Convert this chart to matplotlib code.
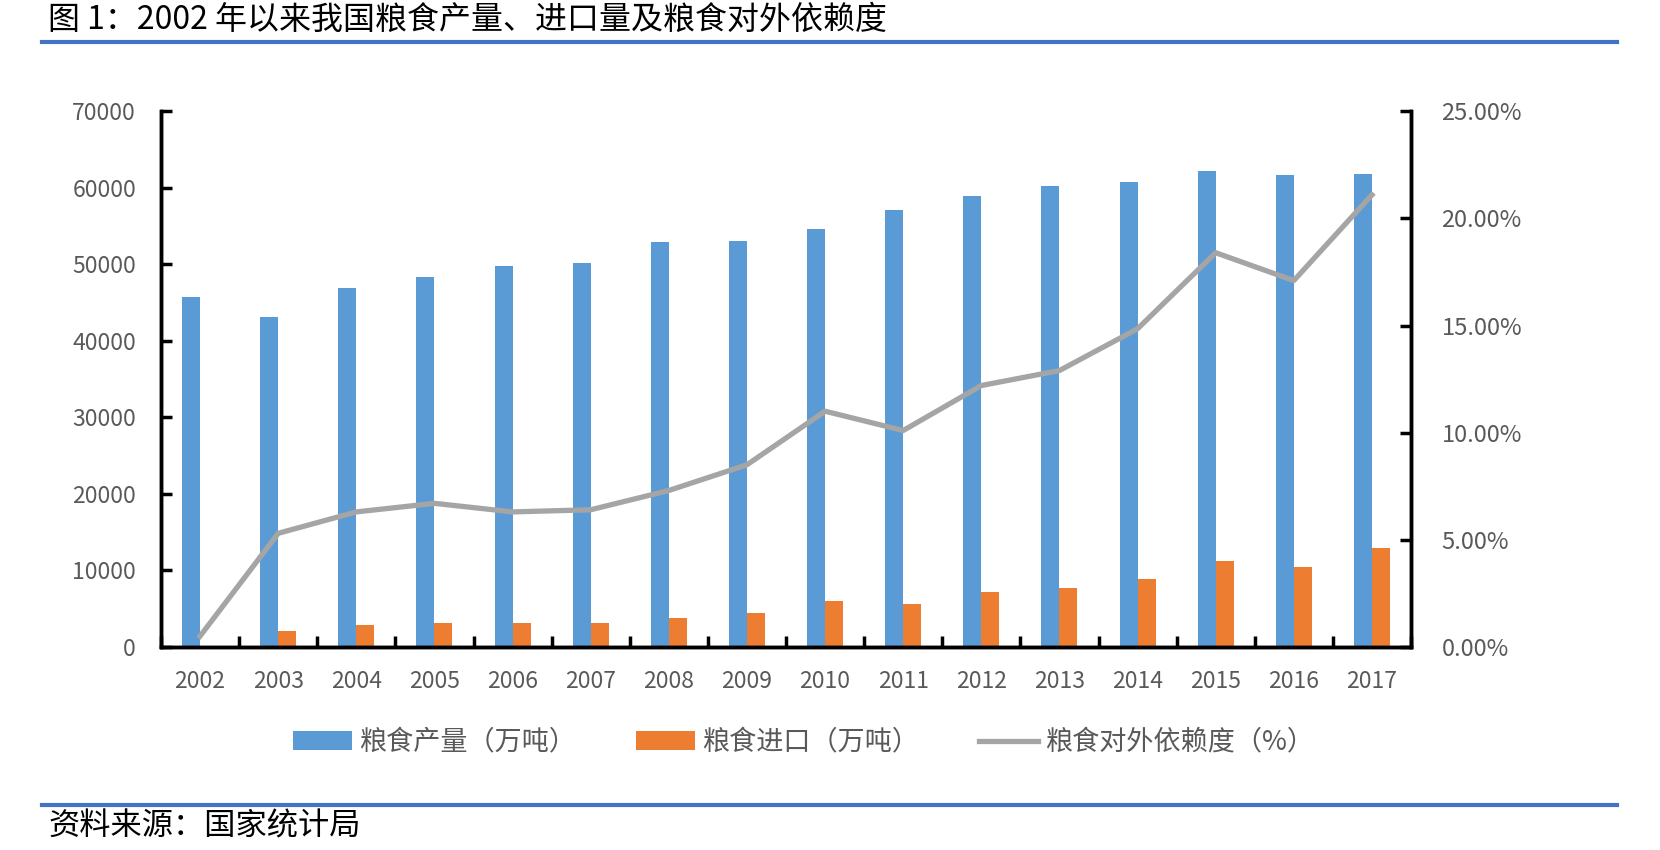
import matplotlib
matplotlib.use('Agg')
import matplotlib.pyplot as plt
import numpy as np
from matplotlib.ticker import FuncFormatter, MultipleLocator

plt.rcParams['font.family'] = ['Noto Sans CJK SC', 'DejaVu Sans']

# 数据
years = ['2002', '2003', '2004', '2005', '2006', '2007', '2008', '2009',
         '2010', '2011', '2012', '2013', '2014', '2015', '2016', '2017']
production = [45706, 43070, 46947, 48402, 49804, 50160, 52871, 53082,
              54648, 57121, 58958, 60194, 60703, 62144, 61625, 61791]
imports = [0, 2090, 2920, 3090, 3090, 3090, 3830, 4450,
           6050, 5580, 7150, 7710, 8890, 11200, 10420, 12980]
dependency = [0.5, 5.3, 6.3, 6.7, 6.3, 6.4, 7.3, 8.5,
              11.0, 10.1, 12.2, 12.9, 14.85, 18.4, 17.1, 21.1]

title = '图 1：2002 年以来我国粮食产量、进口量及粮食对外依赖度'
source = '资料来源：国家统计局'
labels = ['粮食产量（万吨）', '粮食进口（万吨）', '粮食对外依赖度（%）']

blue = '#5B9BD5'
orange = '#ED7D31'
gray = '#A5A5A5'
text_gray = '#595959'

fig = plt.figure(figsize=(16.6, 8.5), dpi=100)
ax = fig.add_axes([0.097, 0.239, 0.753, 0.630])
ax2 = ax.twinx()

x = np.arange(len(years))
w = 0.23
b1 = ax.bar(x - w / 2, production, width=w, color=blue, label=labels[0])
b2 = ax.bar(x + w / 2, imports, width=w, color=orange, label=labels[1])
l1, = ax2.plot(x, dependency, color=gray, linewidth=3.8, label=labels[2])

ax.set_xlim(-0.5, len(years) - 0.5)
ax.set_ylim(0, 70000)
ax.yaxis.set_major_locator(MultipleLocator(10000))
ax2.set_ylim(0, 25)
ax2.yaxis.set_major_locator(MultipleLocator(5))
ax2.yaxis.set_major_formatter(FuncFormatter(lambda v, p: f'{v:.2f}%'))

# x轴刻度在类别之间，标签在类别中心
ax.set_xticks(np.arange(len(years) + 1) - 0.5)
ax.set_xticklabels([])
ax.set_xticks(x, minor=True)
ax.set_xticklabels(years, minor=True)
ax.tick_params(axis='x', which='major', direction='in', length=8, width=2.5, color='black')
ax.tick_params(axis='x', which='minor', length=0, pad=17, labelsize=16.5, labelcolor=text_gray)
ax.tick_params(axis='y', direction='in', length=8, width=2.5, pad=18, labelsize=16.5, labelcolor=text_gray)
ax2.tick_params(axis='y', direction='in', length=8, width=2.5, pad=22, labelsize=17, labelcolor=text_gray)

for a in (ax, ax2):
    a.spines['top'].set_visible(False)
    for s in ('left', 'right', 'bottom'):
        a.spines[s].set_linewidth(2.5)
        a.spines[s].set_color('black')

fig.legend([b1, b2, l1], labels, loc='center', bbox_to_anchor=(0.484, 0.126), ncol=3,
           frameon=False, fontsize=19.5, labelcolor=text_gray, handlelength=2.2,
           handleheight=0.7, handletextpad=0.25, columnspacing=2.2)

# 标题与来源
fig.text(0.029, 0.977, title, fontsize=23, va='center', ha='left', color='black')
fig.add_artist(plt.Line2D([0.025, 0.974], [0.951, 0.951], color='#4472C4', linewidth=3))
fig.add_artist(plt.Line2D([0.025, 0.974], [0.053, 0.053], color='#4472C4', linewidth=3))
fig.text(0.029, 0.028, source, fontsize=22.5, va='center', ha='left', style='italic', color='black')

fig.savefig('out.png', dpi=100)
